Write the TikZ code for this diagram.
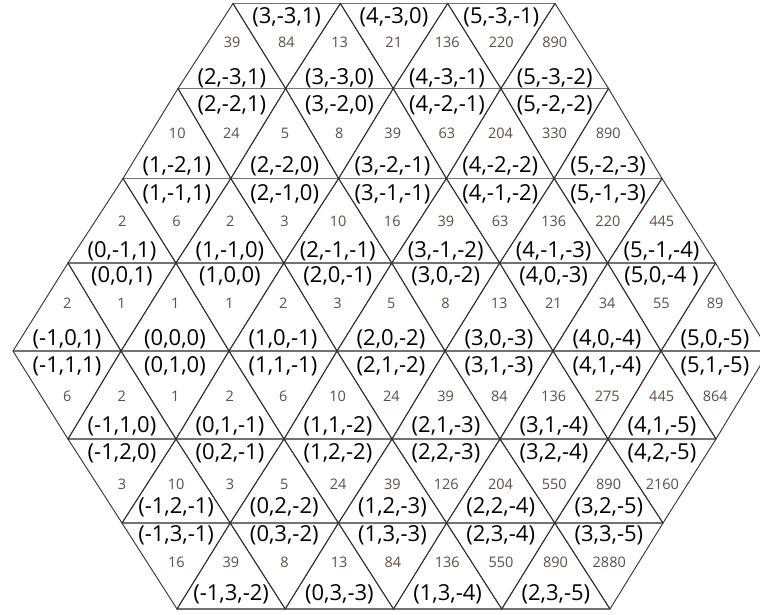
\documentclass[tikz,border=0pt]{standalone}
\usepackage{fontspec}
\setmainfont{Open Sans}
\usetikzlibrary{calc}
\definecolor{numcol}{RGB}{95,78,68}
\definecolor{slcol}{RGB}{50,50,50}
\definecolor{hcol}{RGB}{115,115,115}
\tikzset{
  sline/.style={draw=slcol, line width=0.9pt, line cap=round},
  hline/.style={draw=hcol, line width=1.8pt},
  numtxt/.style={font=\fontsize{14.5}{14.5}\selectfont, text=numcol, inner sep=0pt},
  labtxt/.style={font=\fontsize{22}{22}\selectfont, text=black, inner sep=0pt},
}
\newcommand\UpTri[6]{%
  \pgfmathtruncatemacro\rA{#1+1}%
  \pgfmathtruncatemacro\bA{#3+1}%
  \draw[sline] (v-\rA-#3) -- (v-#1-#2) -- (v-\rA-\bA);
  \coordinate (e-#6) at ($(v-\rA-#3)!0.5!(v-\rA-\bA)$);
  \coordinate (c-#6) at ($(e-#6)!1/3!(v-#1-#2)$);
  \node[numtxt] (n-#6) at (c-#6 |- m-#1) {#4};
  \node[labtxt] (l-#6) at (e-#6 |- lb-#1) {#5};
}
\newcommand\DnTri[6]{%
  \pgfmathtruncatemacro\rA{#1+1}%
  \pgfmathtruncatemacro\aA{#2+1}%
  \draw[sline] (v-#1-#2) -- (v-\rA-#3) -- (v-#1-\aA);
  \coordinate (e-#6) at ($(v-#1-#2)!0.5!(v-#1-\aA)$);
  \coordinate (c-#6) at ($(e-#6)!1/3!(v-\rA-#3)$);
  \node[numtxt] (n-#6) at (c-#6 |- m-#1) {#4};
  \node[labtxt] (l-#6) at (e-#6 |- lt-#1) {#5};
}
\newcommand\ExpRow[2]{%
  \foreach \num/\lab [count=\ti from 0] in {#2}{%
    \pgfmathtruncatemacro\jx{div(\ti,2)}%
    \pgfmathtruncatemacro\jy{\jx+1}%
    \ifodd\ti
      \DnTri{#1}{\jx}{\jy}{\num}{\lab}{#1-\ti}%
    \else
      \UpTri{#1}{\jx}{\jx}{\num}{\lab}{#1-\ti}%
    \fi
  }}
\newcommand\ConRow[2]{%
  \foreach \num/\lab [count=\ti from 0] in {#2}{%
    \pgfmathtruncatemacro\jx{div(\ti,2)}%
    \pgfmathtruncatemacro\jy{\jx+1}%
    \ifodd\ti
      \UpTri{#1}{\jy}{\jx}{\num}{\lab}{#1-\ti}%
    \else
      \DnTri{#1}{\jx}{\jx}{\num}{\lab}{#1-\ti}%
    \fi
  }}
\begin{document}
\begin{tikzpicture}[x=1pt,y=-1pt]
\useasboundingbox (0,0) rectangle (760,614);
\fill[white] (0,0) rectangle (760,614);
\clip (0,0) rectangle (760,614);
% lattice vertices
\foreach \k/\yy/\xl/\xr/\nn in {0/3.5/233/555/3, 1/88.5/178/608.5/4, 2/178.5/123/662/5,
  3/263/68/715.5/6, 4/351/13/769/7, 5/439/68/716/6, 6/523/122/663/5, 7/609/177/610/4}{
  \foreach \jv in {0,...,\nn}{
    \coordinate (v-\k-\jv) at ({\xl+\jv*(\xr-\xl)/\nn},\yy);
  }
}
% text rows
\foreach \rr/\mm/\aa/\bb in {0/42/17.5/78.5, 1/133/105/166.5, 2/221/194/251.5, 3/303/276/339.5,
  4/396/366/426.5, 5/484/453/507.5, 6/562/535/594.5}{
  \coordinate (m-\rr) at (0,\mm);
  \coordinate (lt-\rr) at (0,\aa);
  \coordinate (lb-\rr) at (0,\bb);
}
% horizontal lines
\foreach \k/\nn in {0/3,1/4,2/5,3/6,4/7,5/6,6/5,7/4}{
  \draw[hline] (v-\k-0) -- (v-\k-\nn);
}
\ExpRow{0}{39/{(2,-3,1)}, 84/{(3,-3,1)}, 13/{(3,-3,0)}, 21/{(4,-3,0)}, 136/{(4,-3,-1)}, 220/{(5,-3,-1)}, 890/{(5,-3,-2)}}
\ExpRow{1}{10/{(1,-2,1)}, 24/{(2,-2,1)}, 5/{(2,-2,0)}, 8/{(3,-2,0)}, 39/{(3,-2,-1)}, 63/{(4,-2,-1)}, 204/{(4,-2,-2)}, 330/{(5,-2,-2)}, 890/{(5,-2,-3)}}
\ExpRow{2}{2/{(0,-1,1)}, 6/{(1,-1,1)}, 2/{(1,-1,0)}, 3/{(2,-1,0)}, 10/{(2,-1,-1)}, 16/{(3,-1,-1)}, 39/{(3,-1,-2)}, 63/{(4,-1,-2)}, 136/{(4,-1,-3)}, 220/{(5,-1,-3)}, 445/{(5,-1,-4)}}
\ExpRow{3}{2/{(-1,0,1)}, 1/{(0,0,1)}, 1/{(0,0,0)}, 1/{(1,0,0)}, 2/{(1,0,-1)}, 3/{(2,0,-1)}, 5/{(2,0,-2)}, 8/{(3,0,-2)}, 13/{(3,0,-3)}, 21/{(4,0,-3)}, 34/{(4,0,-4)}, 55/{(5,0,-4 )}, 89/{(5,0,-5)}}
\ConRow{4}{6/{(-1,1,1)}, 2/{(-1,1,0)}, 1/{(0,1,0)}, 2/{(0,1,-1)}, 6/{(1,1,-1)}, 10/{(1,1,-2)}, 24/{(2,1,-2)}, 39/{(2,1,-3)}, 84/{(3,1,-3)}, 136/{(3,1,-4)}, 275/{(4,1,-4)}, 445/{(4,1,-5)}, 864/{(5,1,-5)}}
\ConRow{5}{3/{(-1,2,0)}, 10/{(-1,2,-1)}, 3/{(0,2,-1)}, 5/{(0,2,-2)}, 24/{(1,2,-2)}, 39/{(1,2,-3)}, 126/{(2,2,-3)}, 204/{(2,2,-4)}, 550/{(3,2,-4)}, 890/{(3,2,-5)}, 2160/{(4,2,-5)}}
\ConRow{6}{16/{(-1,3,-1)}, 39/{(-1,3,-2)}, 8/{(0,3,-2)}, 13/{(0,3,-3)}, 84/{(1,3,-3)}, 136/{(1,3,-4)}, 550/{(2,3,-4)}, 890/{(2,3,-5)}, 2880/{(3,3,-5)}}
\end{tikzpicture}
\end{document}
